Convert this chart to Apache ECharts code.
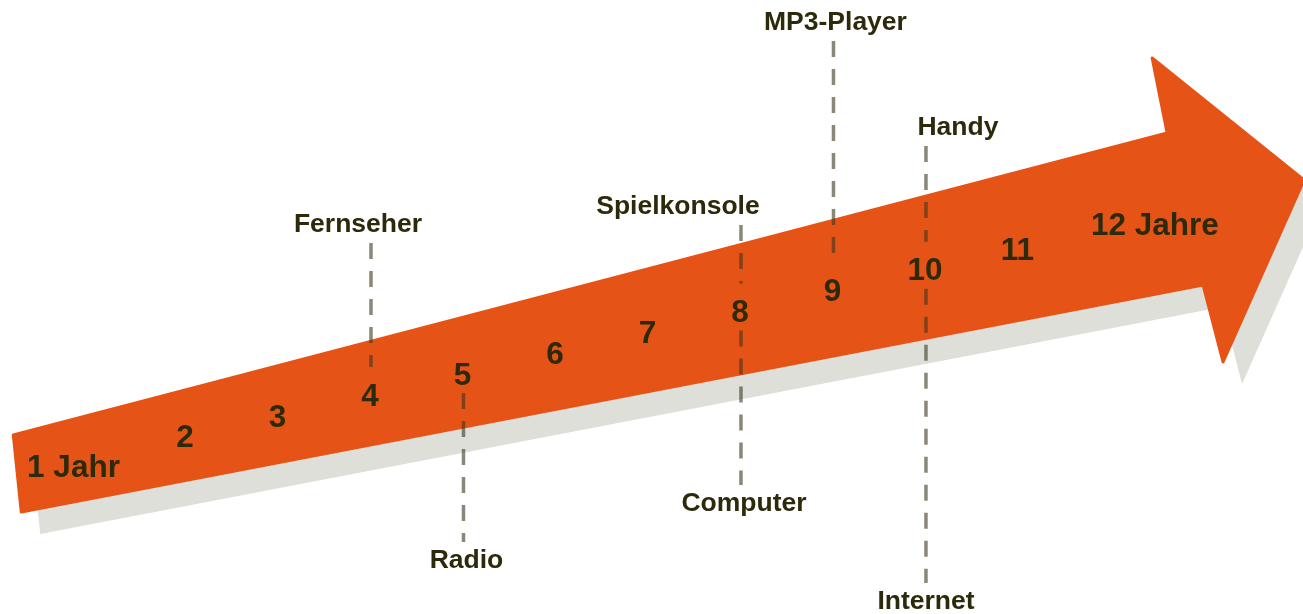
<!DOCTYPE html>
<html><head><meta charset="utf-8">
<script src="https://cdn.jsdelivr.net/npm/echarts@6/dist/echarts.min.js"></script>
<style>html,body{margin:0;padding:0;background:#fff}#c{width:1303px;height:614px}</style>
</head><body><div id="c"></div>
<script>
// ---- data ----
const ages = [1, 2, 3, 4, 5, 6, 7, 8, 9, 10, 11, 12];
const ageLabels = ['1 Jahr', '2', '3', '4', '5', '6', '7', '8', '9', '10', '11', '12 Jahre'];
const devices = ['Fernseher', 'Radio', 'Spielkonsole', 'Computer', 'MP3-Player', 'Handy', 'Internet'];
const deviceAge = [4, 5, 8, 8, 9, 10, 10];
const deviceLevel = [390, 54, 408, 111, 592, 487, 13]; // label height on the vertical scale

// ---- layout (not data) ----
const CENTER0 = 135.5, SLOPE = 20.88;           // arrow centre line on the vertical scale
const center = a => CENTER0 + SLOPE * a;
const ageLabelOffset = {1: [-19, 11], 12: [45, -2]};
const deviceDx = [-12, 4, -62, 4, 3, 33, 1];
const ARROW = [[0.1436, 179], [12.618, 481], [12.456, 556], [14.098, 434], [13.223, 252], [13.007, 329], [0.230, 102]];
const SHADOW_OFF = [19, 22];
const TEXT = '#2c2a0b', FONT = 'Liberation Sans, Arial, sans-serif';

const chart = echarts.init(document.getElementById('c'), null, {renderer: 'canvas'});

const option = {
  animation: false,
  backgroundColor: '#ffffff',
  grid: {left: 0, right: 0, top: 0, bottom: 0, containLabel: false},
  xAxis: {type: 'value', min: 0, max: 14.087, show: false},
  yAxis: {type: 'value', min: 0, max: 614, show: false},
  series: [
    {
      type: 'custom', clip: false, z: 1,
      data: [[0, 0]],
      renderItem: (params, api) => {
        const pts = ARROW.map(p => api.coord(p));
        const sh = pts.map(p => [p[0] + SHADOW_OFF[0], p[1] + SHADOW_OFF[1]]);
        return {type: 'group', children: [
          {type: 'polygon', shape: {points: sh}, style: {fill: '#dedfd9'}},
          {type: 'polygon', shape: {points: pts}, style: {fill: '#e65316', lineJoin: 'round', stroke: '#e65316', lineWidth: 3}}
        ]};
      }
    },
    {
      type: 'custom', clip: false, z: 2,
      data: devices.map((d, i) => [deviceAge[i], deviceLevel[i]]),
      renderItem: (params, api) => {
        const a = api.value(0), lvl = api.value(1);
        const c = center(a);
        const above = lvl > c;
        const inner = above ? c + 28 : c - 19;
        const outer = above ? lvl - 19 : lvl + 18;
        const top = api.coord([a, Math.max(inner, outer)]);
        const bot = api.coord([a, Math.min(inner, outer)]);
        return {type: 'line', shape: {x1: top[0] + 1, y1: top[1], x2: bot[0] + 1, y2: bot[1]},
          style: {stroke: 'rgba(60,55,30,0.6)', lineWidth: 3.5, lineDash: [16, 12]}};
      }
    },
    {
      type: 'custom', clip: false, z: 3,
      data: ages.map(a => [a, center(a)]),
      renderItem: (params, api) => {
        const i = params.dataIndex;
        const a = api.value(0);
        const p = api.coord([a, api.value(1)]);
        const off = ageLabelOffset[a] || [0, 2];
        return {type: 'text', x: p[0] + off[0], y: p[1] + off[1],
          style: {text: ageLabels[i], fill: TEXT, fontSize: 31.5, fontWeight: 'bold', fontFamily: FONT,
            align: 'center', verticalAlign: 'middle'}};
      }
    },
    {
      type: 'custom', clip: false, z: 3,
      data: devices.map((d, i) => [deviceAge[i], deviceLevel[i]]),
      renderItem: (params, api) => {
        const i = params.dataIndex;
        const p = api.coord([api.value(0), api.value(1)]);
        return {type: 'text', x: p[0] + deviceDx[i], y: p[1] + 1,
          style: {text: devices[i], fill: TEXT, fontSize: 26.5, fontWeight: 'bold', fontFamily: FONT,
            align: 'center', verticalAlign: 'middle'}};
      }
    }
  ]
};
chart.setOption(option);
</script>
</body></html>
